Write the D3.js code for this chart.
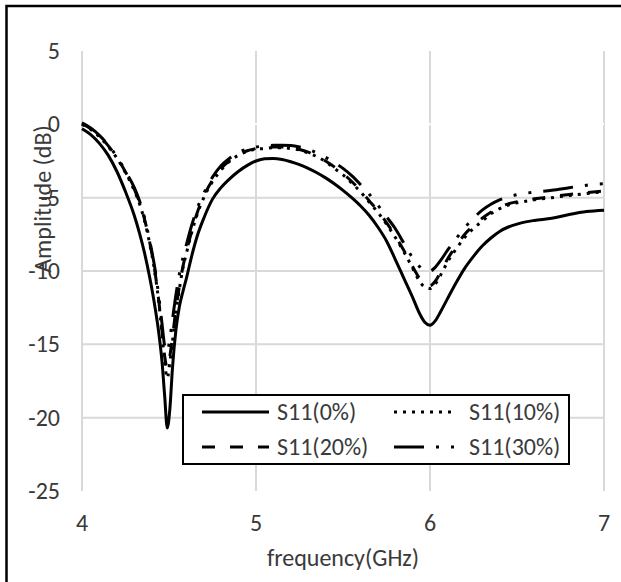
<!DOCTYPE html>
<html lang="en">
<head>
<meta charset="UTF-8">
<title>S11 amplitude</title>
<script src="https://d3js.org/d3.v7.min.js"></script>
<style>
  body { margin: 0; background: #fff; }
  svg text { font-family: Carlito, Lato, "Open Sans", sans-serif; fill: #3a3a3a; }
  .grid line { stroke: #d9d9d9; stroke-width: 2px; }
</style>
</head>
<body>
<svg width="621" height="582"></svg>
<script>
// frequency grid (GHz) shared by all series
var freq = [4.0, 4.05, 4.1, 4.15, 4.2, 4.25, 4.3, 4.33, 4.36, 4.39, 4.42, 4.44, 4.46, 4.475, 4.49, 4.505, 4.52, 4.54, 4.56, 4.58,
            4.6, 4.63, 4.66, 4.7, 4.75, 4.8, 4.85, 4.9, 4.95, 5.0, 5.05, 5.1, 5.15, 5.2, 5.25, 5.3, 5.35, 5.4, 5.45, 5.5,
            5.55, 5.6, 5.65, 5.7, 5.75, 5.8, 5.85, 5.9, 5.94, 5.97, 6.0, 6.03, 6.06, 6.1, 6.15, 6.2, 6.25, 6.3, 6.35, 6.4,
            6.45, 6.5, 6.55, 6.6, 6.7, 6.8, 6.9, 7.0];

var s11_0 = [-0.3, -0.7, -1.3, -2.1, -3.2, -4.6, -6.2, -7.4, -8.8, -10.5, -12.5, -14.1, -16.2, -18.5, -20.7, -19.4, -16.6, -14.0, -12.4, -11.4,
             -10.5, -9.0, -7.7, -6.4, -5.1, -4.3, -3.7, -3.2, -2.8, -2.5, -2.35, -2.33, -2.4, -2.55, -2.75, -3.0, -3.3, -3.65, -4.05, -4.5,
             -5.0, -5.55, -6.2, -7.0, -7.95, -9.2, -10.5, -11.8, -12.9, -13.5, -13.7, -13.4, -12.8, -11.9, -10.8, -9.8, -9.0, -8.3, -7.75, -7.3,
             -7.0, -6.8, -6.65, -6.55, -6.4, -6.15, -5.95, -5.85];

var s11_10 = [0.0, -0.35, -0.85, -1.5, -2.3, -3.3, -4.5, -5.4, -6.6, -8.2, -10.2, -12.0, -14.3, -16.2, -17.3, -16.2, -14.8, -12.8, -11.2, -9.8,
              -8.8, -7.4, -6.2, -5.0, -3.9, -3.1, -2.5, -2.1, -1.85, -1.7, -1.65, -1.6, -1.6, -1.65, -1.75, -1.95, -2.2, -2.55, -3.0, -3.45,
              -4.0, -4.6, -5.3, -6.0, -6.8, -7.7, -8.7, -9.8, -10.7, -11.1, -11.2, -10.9, -10.3, -9.4, -8.5, -7.7, -7.1, -6.6, -6.1, -5.75,
              -5.5, -5.35, -5.25, -5.15, -5.0, -4.85, -4.72, -4.6];

var s11_20 = [0.05, -0.3, -0.8, -1.45, -2.25, -3.25, -4.4, -5.3, -6.5, -8.1, -10.1, -11.9, -14.1, -15.8, -16.6, -15.8, -14.5, -12.6, -11.0, -9.7,
              -8.7, -7.3, -6.1, -4.9, -3.8, -3.0, -2.45, -2.05, -1.8, -1.65, -1.6, -1.55, -1.55, -1.6, -1.72, -1.9, -2.15, -2.5, -2.9, -3.35,
              -3.9, -4.5, -5.2, -5.9, -6.7, -7.6, -8.6, -9.7, -10.5, -10.9, -11.0, -10.7, -10.1, -9.2, -8.3, -7.5, -6.9, -6.4, -6.0, -5.65,
              -5.42, -5.28, -5.18, -5.08, -4.93, -4.78, -4.65, -4.55];

var s11_30 = [0.1, -0.25, -0.75, -1.4, -2.2, -3.2, -4.3, -5.2, -6.4, -8.0, -9.9, -11.6, -13.6, -15.1, -15.5, -14.6, -13.3, -11.6, -10.2, -9.1,
              -8.2, -6.9, -5.8, -4.7, -3.6, -2.8, -2.3, -1.9, -1.7, -1.55, -1.48, -1.43, -1.42, -1.45, -1.55, -1.7, -1.95, -2.25, -2.6, -3.0,
              -3.5, -4.1, -4.75, -5.5, -6.3, -7.1, -8.1, -9.1, -9.7, -9.95, -10.0, -9.75, -9.3, -8.6, -7.8, -7.05, -6.4, -5.85, -5.45, -5.15,
              -4.95, -4.8, -4.7, -4.62, -4.5, -4.32, -4.15, -4.05];

var seriesNames = ["S11(0%)", "S11(10%)", "S11(20%)", "S11(30%)"];
var seriesValues = [s11_0, s11_10, s11_20, s11_30];
var seriesDash = [null, "3,6", "13,15", "30,12,3,12,3,12"];

var xTicks = [4, 5, 6, 7];
var yTicks = [5, 0, -5, -10, -15, -20, -25];
var yGrid = [-5, -10, -15, -20];

var svg = d3.select("svg");
var fontSize = 24;

var x = d3.scaleLinear().domain([4, 7]).range([82, 604]);
var y = d3.scaleLinear().domain([-25, 5]).range([491, 51]);

// outer chart frame (right and bottom edges fall outside the picture)
svg.append("rect")
    .attr("x", 6.5).attr("y", 6)
    .attr("width", 700).attr("height", 700)
    .attr("fill", "none").attr("stroke", "#000").attr("stroke-width", 2.5);

var grid = svg.append("g").attr("class", "grid");
grid.selectAll("line.h").data(yGrid).enter().append("line")
    .attr("class", "h")
    .attr("x1", x(4)).attr("x2", x(7))
    .attr("y1", function(d) { return y(d); }).attr("y2", function(d) { return y(d); });
grid.selectAll("line.v").data(xTicks).enter().append("line")
    .attr("class", "v")
    .attr("x1", function(d) { return x(d); }).attr("x2", function(d) { return x(d); })
    .attr("y1", y(5)).attr("y2", y(-25));

// horizontal axis crosses at 0, drawn in white
svg.append("line")
    .attr("x1", x(4)).attr("x2", x(7))
    .attr("y1", y(0)).attr("y2", y(0))
    .attr("stroke", "#fff").attr("stroke-width", 2);

// tick labels
svg.append("g").selectAll("text").data(yTicks).enter().append("text")
    .attr("x", 60)
    .attr("y", function(d) { return y(d) + 8; })
    .attr("text-anchor", "end")
    .style("font-size", fontSize + "px")
    .text(function(d) { return d; });

svg.append("g").selectAll("text").data(xTicks).enter().append("text")
    .attr("x", function(d) { return x(d); })
    .attr("y", 531)
    .attr("text-anchor", "middle")
    .style("font-size", fontSize + "px")
    .text(function(d) { return d; });

svg.append("text")
    .attr("x", 343)
    .attr("y", 566)
    .attr("text-anchor", "middle")
    .style("font-size", fontSize + "px")
    .text("frequency(GHz)");

svg.append("text")
    .attr("transform", "translate(51,199) rotate(-90)")
    .attr("text-anchor", "middle")
    .style("font-size", fontSize + "px")
    .text("Amplitude (dB)");

// curves
var line = d3.line()
    .x(function(d) { return x(d[0]); })
    .y(function(d) { return y(d[1]); })
    .curve(d3.curveMonotoneX);

seriesValues.forEach(function(vals, i) {
    var pts = freq.map(function(f, j) { return [f, vals[j]]; });
    svg.append("path")
        .datum(pts)
        .attr("d", line)
        .attr("fill", "none")
        .attr("stroke", "#000")
        .attr("stroke-width", 3)
        .attr("stroke-dasharray", seriesDash[i]);
});

// legend
var legend = svg.append("g");
legend.append("rect")
    .attr("x", 183).attr("y", 395)
    .attr("width", 386).attr("height", 69)
    .attr("fill", "#fff").attr("stroke", "#000").attr("stroke-width", 2);

var legX = [202, 394];
var legLen = [67, 61];
var legY = [412, 447];
seriesNames.forEach(function(name, i) {
    var col = i % 2, row = Math.floor(i / 2);
    legend.append("line")
        .attr("x1", legX[col]).attr("x2", legX[col] + legLen[col])
        .attr("y1", legY[row]).attr("y2", legY[row])
        .attr("stroke", "#000").attr("stroke-width", 3)
        .attr("stroke-dasharray", seriesDash[i]);
    legend.append("text")
        .attr("x", legX[col] + legLen[col] + (col === 0 ? 8 : 14))
        .attr("y", legY[row] + 8)
        .style("font-size", fontSize + "px")
        .text(name);
});
</script>
</body>
</html>
